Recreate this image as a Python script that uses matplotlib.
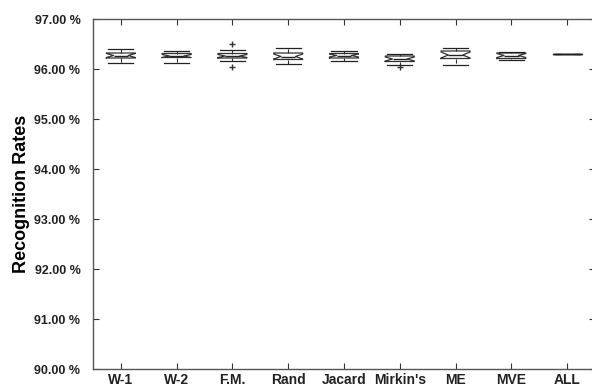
import matplotlib
matplotlib.use("Agg")
import matplotlib.pyplot as plt
from matplotlib.ticker import FuncFormatter

categories = ["W-1", "W-2", "F.M.", "Rand", "Jacard", "Mirkin's", "ME", "MVE", "ALL"]
whislo = [96.13, 96.13, 96.17, 96.11, 96.17, 96.09, 96.09, 96.19, 96.30]
q1     = [96.22, 96.23, 96.22, 96.19, 96.22, 96.15, 96.21, 96.21, 96.30]
med    = [96.27, 96.26, 96.26, 96.25, 96.27, 96.20, 96.28, 96.27, 96.30]
q3     = [96.32, 96.31, 96.31, 96.32, 96.31, 96.26, 96.36, 96.32, 96.30]
whishi = [96.41, 96.36, 96.38, 96.43, 96.36, 96.31, 96.43, 96.34, 96.30]
fliers = [[], [], [96.50, 96.05], [], [], [96.04], [], [], []]
notch_half = [0.04, 0.03, 0.03, 0.05, 0.03, 0.04, 0.06, 0.04, 0.0]

plt.rcParams['font.family'] = ['Liberation Sans', 'DejaVu Sans']

fig = plt.figure(figsize=(5.92, 3.89), dpi=100)
ax = fig.add_axes([93/592, 1 - 369/389, 502/592, 350/389])

stats = []
for i, c in enumerate(categories):
    stats.append(dict(label=c, whislo=whislo[i], q1=q1[i], med=med[i], q3=q3[i],
                      whishi=whishi[i], fliers=fliers[i],
                      cilo=med[i] - notch_half[i], cihi=med[i] + notch_half[i]))

lp = dict(color='#333333', linewidth=0.9)
ax.bxp(stats, positions=range(1, len(categories) + 1), widths=0.52, shownotches=True,
       boxprops=lp, whiskerprops=dict(color='#333333', linewidth=0.8, linestyle='--'),
       capprops=dict(color='#222222', linewidth=0.9), medianprops=dict(color='#222222', linewidth=1.0),
       flierprops=dict(marker='+', markeredgecolor='#333333', markersize=5, linestyle='none'),
       capwidths=0.45)

ax.set_xlim(0.5, 9.5)
ax.set_ylim(90, 97)
ax.set_yticks(range(90, 98))
ax.yaxis.set_major_formatter(FuncFormatter(lambda v, p: f"{v:.2f} %"))
ax.set_xticks(range(1, len(categories) + 1))
ax.set_xticklabels(categories)
ax.tick_params(direction='in', length=4, width=0.8, top=True, right=True, color='#333333')
ax.tick_params(axis='y', labelsize=9, pad=9)
ax.tick_params(axis='x', labelsize=10, pad=3)
for lab in ax.get_xticklabels() + ax.get_yticklabels():
    lab.set_fontweight('bold')
    lab.set_color('#222222')
for s in ax.spines.values():
    s.set_color('#555555')
    s.set_linewidth(1.0)
ax.set_ylabel("Recognition Rates", fontsize=13, fontweight='bold', labelpad=3)

fig.savefig("out.png", dpi=100)
